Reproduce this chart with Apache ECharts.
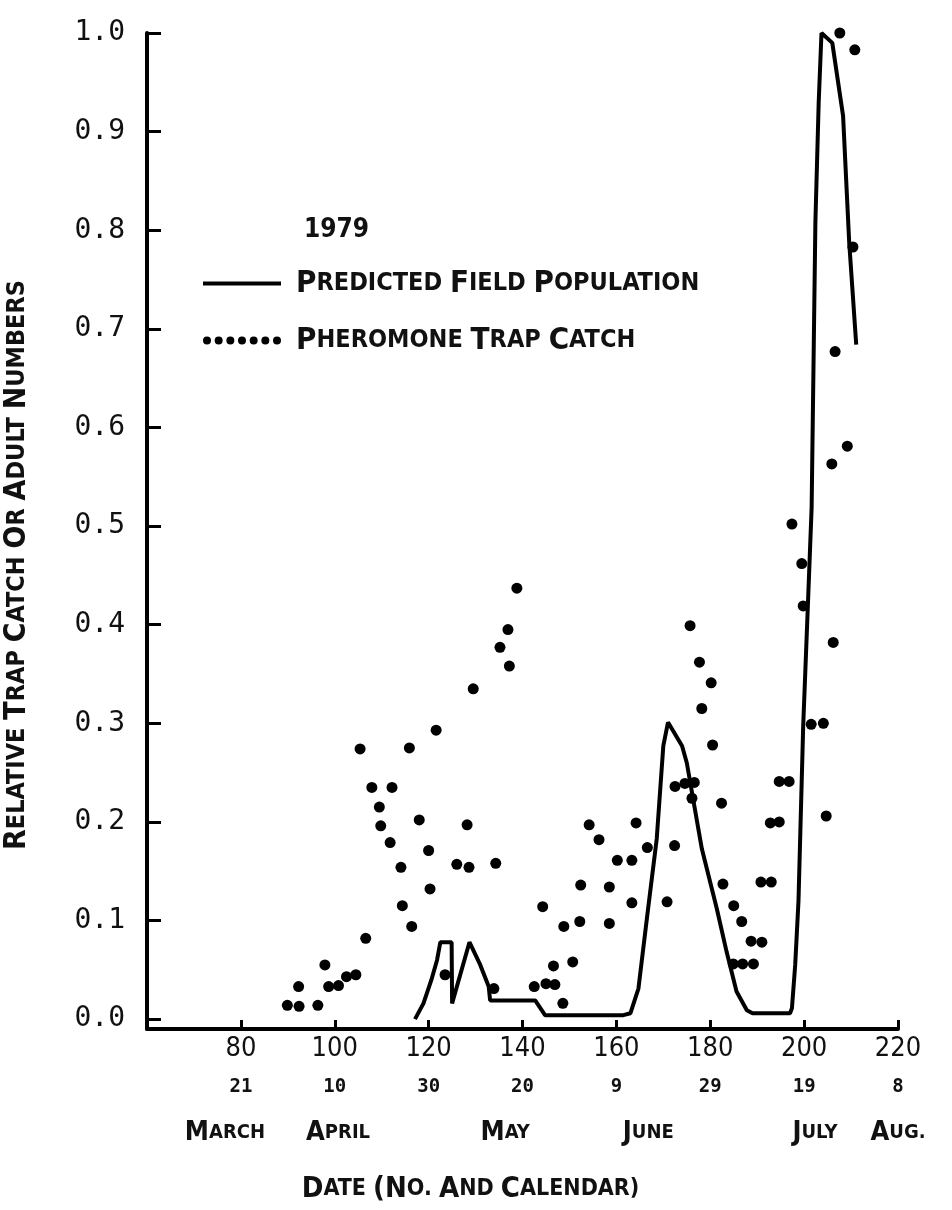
<!DOCTYPE html>
<html><head><meta charset="utf-8">
<script src="https://cdn.jsdelivr.net/npm/echarts@6/dist/echarts.min.js"></script>
<style>html,body{margin:0;padding:0;background:#fff}#c{width:952px;height:1210px}</style>
</head><body><div id="c"></div>
<script>
// Predicted field population (line)
const lineDays = [117.1, 118.9, 120.6, 121.8, 122.5, 124.9, 125.0, 128.7, 131.0, 132.8, 133.1, 142.7, 144.8, 161.5, 163.0, 164.7, 166.5, 168.6, 170.0, 171.0, 174.0, 175.0, 178.2, 181.4, 183.5, 185.6, 187.8, 189.0, 197.0, 197.4, 198.1, 198.8, 199.8, 200.9, 201.6, 202.4, 203.1, 203.7, 206.0, 208.3, 209.6, 211.1];
const lineValues = [0.0, 0.016, 0.04, 0.06, 0.078, 0.078, 0.016, 0.078, 0.055, 0.033, 0.019, 0.019, 0.004, 0.004, 0.006, 0.031, 0.102, 0.183, 0.277, 0.301, 0.277, 0.26, 0.173, 0.112, 0.068, 0.028, 0.009, 0.006, 0.006, 0.011, 0.055, 0.12, 0.297, 0.432, 0.519, 0.808, 0.929, 1.0, 0.99, 0.916, 0.788, 0.684];
// Pheromone trap catch (dots)
const trapDays = [89.9, 92.4, 92.3, 96.4, 97.9, 98.7, 100.8, 102.5, 104.5, 105.4, 106.6, 107.9, 109.5, 109.8, 111.8, 112.2, 114.1, 114.4, 115.9, 116.4, 118.0, 120.0, 120.3, 121.6, 123.5, 126.0, 128.2, 128.6, 129.5, 133.9, 134.3, 135.2, 136.9, 137.2, 138.8, 142.5, 144.3, 145.0, 146.6, 146.9, 148.6, 148.8, 150.7, 152.2, 152.4, 154.2, 156.3, 158.5, 158.5, 160.2, 163.3, 163.3, 164.2, 166.6, 170.8, 172.4, 172.5, 174.6, 175.7, 176.1, 176.6, 177.7, 178.2, 180.2, 180.5, 182.4, 182.7, 184.9, 185.0, 186.7, 186.9, 188.7, 189.2, 190.8, 191.0, 192.8, 193.0, 194.7, 194.7, 196.8, 197.4, 199.5, 199.8, 201.5, 204.1, 204.7, 205.9, 206.2, 206.6, 207.6, 209.2, 210.4, 210.8];
const trapValues = [0.014, 0.013, 0.033, 0.014, 0.055, 0.033, 0.034, 0.043, 0.045, 0.274, 0.082, 0.235, 0.215, 0.196, 0.179, 0.235, 0.154, 0.115, 0.275, 0.094, 0.202, 0.171, 0.132, 0.293, 0.045, 0.157, 0.197, 0.154, 0.335, 0.031, 0.158, 0.377, 0.395, 0.358, 0.437, 0.033, 0.114, 0.036, 0.054, 0.035, 0.016, 0.094, 0.058, 0.099, 0.136, 0.197, 0.182, 0.134, 0.097, 0.161, 0.118, 0.161, 0.199, 0.174, 0.119, 0.176, 0.236, 0.239, 0.399, 0.224, 0.240, 0.362, 0.315, 0.341, 0.278, 0.219, 0.137, 0.056, 0.115, 0.099, 0.056, 0.079, 0.056, 0.139, 0.078, 0.199, 0.139, 0.200, 0.241, 0.241, 0.502, 0.462, 0.419, 0.299, 0.300, 0.206, 0.563, 0.382, 0.677, 1.0, 0.581, 0.783, 0.983];
// Axis labels
const xTickValues = [80, 100, 120, 140, 160, 180, 200, 220];
const xTickLabels = ['80', '100', '120', '140', '160', '180', '200', '220'];
const calendarDays = ['21', '10', '30', '20', '9', '29', '19', '8'];
const monthNames = ['MARCH', 'APRIL', 'MAY', 'JUNE', 'JULY', 'AUG.'];
const monthDays = [76.6, 100.7, 136.3, 166.8, 202.3, 220];
const yTickValues = [0, 0.1, 0.2, 0.3, 0.4, 0.5, 0.6, 0.7, 0.8, 0.9, 1.0];
const yTickLabels = ['0.0', '0.1', '0.2', '0.3', '0.4', '0.5', '0.6', '0.7', '0.8', '0.9', '1.0'];
const yearText = '1979';
const lineName = 'PREDICTED FIELD POPULATION';
const dotName = 'PHEROMONE TRAP CATCH';
const yTitle = 'RELATIVE TRAP CATCH OR ADULT NUMBERS';
const xTitle = 'DATE (NO. AND CALENDAR)';

const COND = "'DejaVu Sans Condensed', 'Liberation Sans Narrow', 'DejaVu Sans', sans-serif";
const MONO = "'DejaVu Sans Mono', 'Liberation Mono', monospace";

function smallCaps(str) {
  return str.split(' ').map(w => {
    const k = (w[0] === '(') ? 2 : 1;
    return '{B|' + w.slice(0, k) + '}' + (w.length > k ? '{s|' + w.slice(k) + '}' : '');
  }).join('{s| }');
}
function capsRich(big, small, lh) {
  return {
    B: { fontFamily: COND, fontWeight: 'bold', fontSize: big, color: '#111', lineHeight: lh },
    s: { fontFamily: COND, fontWeight: 'bold', fontSize: small, color: '#111', lineHeight: lh }
  };
}

const lineData = lineDays.map((d, i) => [d, lineValues[i]]);
const trapData = trapDays.map((d, i) => [d, trapValues[i]]);

let dotsPath = 'path://';
for (let i = 0; i < 7; i++) {
  const cx = 4 + i * 11.67;
  dotsPath += 'M' + (cx - 4) + ',5a4,4 0 1,0 8,0a4,4 0 1,0 -8,0Z';
}

const chart = echarts.init(document.getElementById('c'), null, { renderer: 'canvas' });
chart.setOption({
  backgroundColor: '#fff',
  animation: false,
  title: {
    text: yearText, left: 299, top: 212,
    textStyle: { fontFamily: COND, fontWeight: 'bold', fontSize: 26, color: '#111' }
  },
  legend: {
    orient: 'vertical', left: 203, top: 268, itemWidth: 78, itemHeight: 10, itemGap: 26,
    padding: 0, selectedMode: false,
    data: [{ name: lineName, icon: 'path://M0,0H80V4H0Z' }, { name: dotName, icon: dotsPath }],
    formatter: n => smallCaps(n),
    textStyle: { padding: [0, 0, 0, 10], rich: capsRich(31, 25, 30) }
  },
  grid: { left: 147, right: 54, top: 33, bottom: 181, containLabel: false, outerBoundsMode: 'none' },
  xAxis: [{
    type: 'value', min: 60, max: 220, interval: 20,
    axisLine: { show: true, onZero: false, lineStyle: { color: '#000', width: 4 } },
    axisTick: { show: true, inside: true, length: 9, lineStyle: { color: '#000', width: 3 } },
    splitLine: { show: false },
    axisLabel: {
      margin: 0, color: '#111',
      formatter: v => {
        const i = xTickValues.indexOf(v);
        return i < 0 ? '' : '{n|' + xTickLabels[i] + '}\n{d|' + calendarDays[i] + '}';
      },
      rich: {
        n: { fontFamily: COND, fontSize: 27, lineHeight: 40, color: '#111' },
        d: { fontFamily: MONO, fontWeight: 'bold', fontSize: 19, lineHeight: 36, color: '#111' }
      }
    }
  }, {
    type: 'value', min: 60, max: 220, position: 'bottom', offset: 88,
    axisLine: { show: false }, axisTick: { show: false }, splitLine: { show: false },
    axisLabel: {
      customValues: monthDays, margin: 2, color: '#111',
      formatter: v => {
        const i = monthDays.indexOf(v);
        return i < 0 ? '' : smallCaps(monthNames[i]);
      },
      rich: capsRich(27, 20)
    },
    name: smallCaps(xTitle), nameLocation: 'middle', nameGap: 58,
    nameTextStyle: { padding: [0, 104, 0, 0], rich: capsRich(29, 23) }
  }],
  yAxis: {
    type: 'value', min: -0.01, max: 1,
    axisLine: { show: true, lineStyle: { color: '#000', width: 4 } },
    axisTick: { show: true, inside: true, length: 14, customValues: yTickValues, lineStyle: { color: '#000', width: 3 } },
    splitLine: { show: false },
    axisLabel: {
      customValues: yTickValues,
      margin: 22, color: '#111', fontFamily: MONO, fontSize: 28,
      formatter: v => yTickLabels[Math.round(v * 10)]
    },
    name: smallCaps(yTitle), nameLocation: 'middle', nameGap: 115,
    nameTextStyle: { padding: [0, 68, 0, 0], rich: capsRich(30, 25) }
  },
  series: [{
    name: lineName, type: 'line', data: lineData, symbol: 'none',
    lineStyle: { color: '#000', width: 4 }, itemStyle: { color: '#000' }, z: 2
  }, {
    name: dotName, type: 'scatter', data: trapData, symbol: 'circle', symbolSize: 11,
    itemStyle: { color: '#000', opacity: 1 }, z: 3
  }]
});
</script></body></html>
